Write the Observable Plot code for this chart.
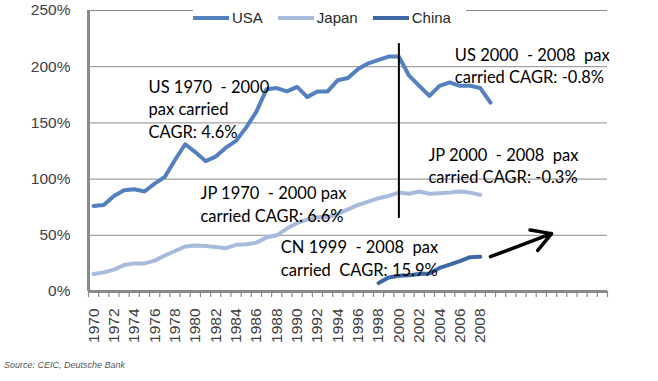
<!DOCTYPE html>
<html><head><meta charset="utf-8">
<script src="https://cdn.jsdelivr.net/npm/d3@7"></script>
<script src="https://cdn.jsdelivr.net/npm/@observablehq/plot@0.6"></script>
<style>
body{margin:0;background:#fff;}
#wrap{position:relative;width:658px;height:358px;}
#legend{position:absolute;left:193px;top:9px;display:flex;align-items:center;font:15px "Liberation Sans",sans-serif;color:#262626;background:#fff;line-height:17px;}
#legend .item{display:flex;align-items:center;margin-right:15px;}
#legend .sw{width:36px;height:4px;margin-right:3px;}
.caption{font:italic 9px "Liberation Sans",sans-serif;color:#555;padding-left:4px;line-height:14px;}
</style></head><body>
<div id="wrap"><div id="chart"></div><div id="legend"></div></div>
<div class="caption">Source: CEIC, Deutsche Bank</div>
<script>
const seriesNames = ["USA", "Japan", "China"];
const seriesColors = ["#5580bf", "#a8bbdc", "#3e67a5"];

const usYears = d3.range(1970, 2010);
const usValues = [76, 77, 85, 90, 91, 89, 96, 102, 117, 131, 124, 116, 120, 128, 134, 146, 160, 180, 181, 178,
  182, 173, 178, 178, 188, 190, 198, 203, 206, 209, 209, 192, 183, 174, 183, 186, 183, 183, 181, 168];

const jpYears = d3.range(1970, 2009);
const jpValues = [15.5, 17, 19.5, 23.5, 25, 25, 27.5, 32, 36, 40, 41, 40.5, 39.5, 38.5, 41.5, 42, 43.5, 48, 50, 56,
  61, 64, 66, 66, 69, 73, 77, 80, 83, 85, 88, 87, 89, 87, 87.5, 88, 89, 88, 86];

const cnYears = d3.range(1998, 2009);
const cnValues = [7.5, 12.5, 14, 14.5, 15.5, 16, 21, 24, 27, 30.5, 31];

const xLabels = d3.range(1970, 2009, 2);
const yTicks = [0, 50, 100, 150, 200, 250];
const categoryFirst = 1970, categoryLast = 2020;

const annoTexts = [
  "US 1970  - 2000\npax carried\nCAGR: 4.6%",
  "US 2000  - 2008  pax\ncarried CAGR: -0.8%",
  "JP 2000  - 2008  pax\ncarried CAGR: -0.3%",
  "JP 1970  - 2000 pax\ncarried CAGR: 6.6%",
  "CN 1999  - 2008  pax\ncarried  CAGR: 15.9%"
];
const annoX = [1975.4, 2005.5, 2002.9, 1980.5, 1988.4];
const annoY = [191, 219.5, 130.5, 96.5, 48.5];

const dividerYear = 2000, dividerFrom = 65, dividerTo = 220.5;
const arrowFrom = {year: 2009, value: 31}, arrowTo = {year: 2015, value: 51.5};

const rows = [];
usYears.forEach((y, i) => rows.push({series: "USA", year: y, value: usValues[i]}));
jpYears.forEach((y, i) => rows.push({series: "Japan", year: y, value: jpValues[i]}));
cnYears.forEach((y, i) => rows.push({series: "China", year: y, value: cnValues[i]}));
const annos = annoTexts.map((t, i) => ({text: t, x: annoX[i], y: annoY[i]}));
const boundaries = d3.range(categoryFirst - 0.5, categoryLast + 1, 1);

const chart = Plot.plot({
  width: 658, height: 358,
  marginLeft: 88, marginRight: 51, marginTop: 10, marginBottom: 67,
  style: {fontFamily: "Liberation Sans, sans-serif", fontSize: "15px", background: "#fff"},
  x: {domain: [categoryFirst - 0.5, categoryLast + 0.5], axis: null},
  y: {domain: [0, 250], axis: null},
  color: {domain: seriesNames, range: seriesColors},
  marks: [
    Plot.gridY(yTicks.slice(1), {stroke: "#8a8a8a", strokeOpacity: 1, strokeWidth: 1}),
    Plot.axisY(yTicks, {tickSize: 0, tickPadding: 18, tickFormat: d => d + "%", fill: "#404040", fontSize: 15.5}),
    Plot.axisX(boundaries, {tickSize: 6, tickFormat: () => "", stroke: "#8a8a8a", strokeWidth: 1.2}),
    Plot.axisX(xLabels, {tickSize: 0, tickPadding: 17, tickRotate: -90, tickFormat: d => String(d), fill: "#404040", fontSize: 15.5}),
    Plot.ruleY([0], {stroke: "#8a8a8a", strokeWidth: 3}),
    Plot.ruleX([categoryFirst - 0.5], {stroke: "#8a8a8a", strokeWidth: 3}),
    Plot.line(rows, {x: "year", y: "value", z: "series", stroke: "series", strokeWidth: 4, strokeLinejoin: "round", strokeLinecap: "round"}),
    Plot.ruleX([dividerYear], {y1: dividerFrom, y2: dividerTo, stroke: "#000", strokeWidth: 2}),
    Plot.arrow([{}], {x1: () => arrowFrom.year, y1: () => arrowFrom.value, x2: () => arrowTo.year, y2: () => arrowTo.value,
      stroke: "#000", strokeWidth: 3.5, headLength: 18, bend: 0}),
    Plot.text(annos, {x: "x", y: "y", text: "text", textAnchor: "start", lineAnchor: "top", lineHeight: 1.37,
      fontFamily: "Lato, sans-serif", fontSize: 16.5, fill: "#000"})
  ]
});
document.getElementById("chart").appendChild(chart);

const legend = document.getElementById("legend");
seriesNames.forEach((n, i) => {
  const it = document.createElement("div");
  it.className = "item";
  it.innerHTML = `<span class="sw" style="background:${seriesColors[i]}"></span><span>${n}</span>`;
  legend.appendChild(it);
});
</script>
</body></html>
